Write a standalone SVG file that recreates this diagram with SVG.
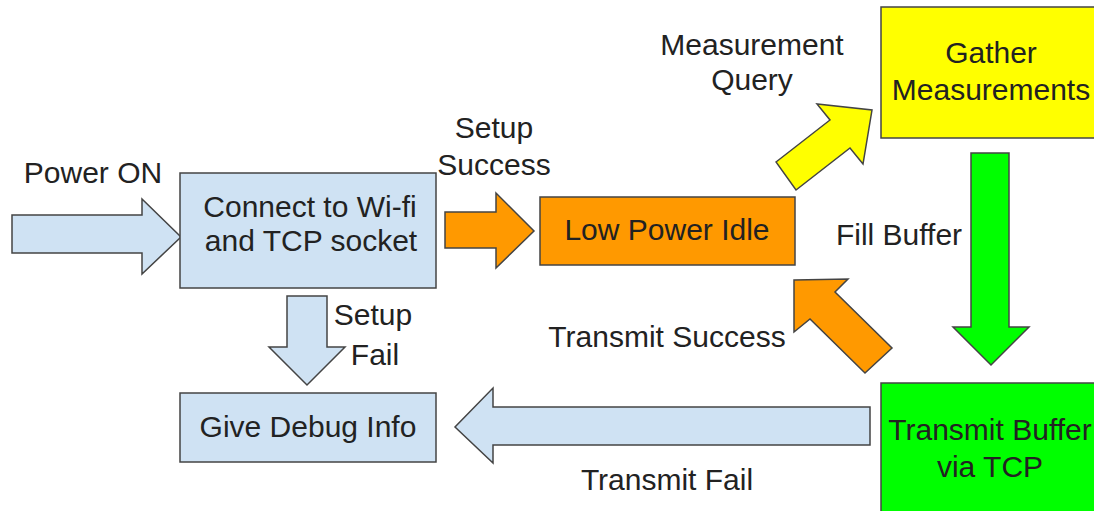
<svg xmlns="http://www.w3.org/2000/svg" width="1094" height="511" viewBox="0 0 1094 511">
<style>
text{font-family:"Liberation Sans",Arial,sans-serif;font-size:30px;fill:#222;text-anchor:middle}
.box{stroke:#444;stroke-width:1.5}
.arr{stroke:#444;stroke-width:1.5;stroke-linejoin:miter}
.blue{fill:#cfe2f3}.orange{fill:#ff9900}.yellow{fill:#ffff00}.green{fill:#00ff00}
</style>
<rect width="1094" height="511" fill="#fff"/>
<g id="connectors">
<polygon class="arr blue" points="12,215 142,215 142,199 181,237 142,274 142,253 12,253"/>
<polygon class="arr orange" points="445,212 496,212 496,193 534,231 496,268 496,248 445,248"/>
<polygon class="arr yellow" points="776,162 830,120 817,104 872,110 863,164 850,148 796,190"/>
<polygon class="arr green" points="971,153 1009,153 1009,327 1029,327 991,365 953,327 971,327"/>
<polygon class="arr orange" points="794,280 848,279 835,292 892,348 865,373 810,319 794,332"/>
<polygon class="arr blue" points="287,296 327,296 327,347 345,347 307,385 269,347 287,347"/>
<polygon class="arr blue" points="870,407 870,445 493,445 493,463 455,427 493,388 493,407"/>
<text x="93" y="183">Power ON</text>
<text x="494" y="138">Setup</text>
<text x="494" y="175">Success</text>
<text x="752" y="55">Measurement</text>
<text x="752" y="90">Query</text>
<text x="899" y="245">Fill Buffer</text>
<text x="667" y="347">Transmit Success</text>
<text x="373" y="325">Setup</text>
<text x="375" y="365">Fail</text>
<text x="667" y="490">Transmit Fail</text>
</g>
<g id="connect">
<rect class="box blue" x="180" y="173" width="256" height="115"/>
<text x="310" y="217">Connect to Wi-fi</text>
<text x="311" y="251">and TCP socket</text>
</g>
<g id="idle">
<rect class="box orange" x="540" y="197" width="255" height="68"/>
<text x="667" y="240">Low Power Idle</text>
</g>
<g id="gather">
<rect class="box yellow" x="881" y="7" width="220" height="131"/>
<text x="991" y="63">Gather</text>
<text x="991" y="100">Measurements</text>
</g>
<g id="transmit">
<rect class="box green" x="881" y="383" width="220" height="140"/>
<text x="990" y="440">Transmit Buffer</text>
<text x="990" y="477">via TCP</text>
</g>
<g id="debug">
<rect class="box blue" x="180" y="393" width="256" height="69"/>
<text x="308" y="437">Give Debug Info</text>
</g>
</svg>
